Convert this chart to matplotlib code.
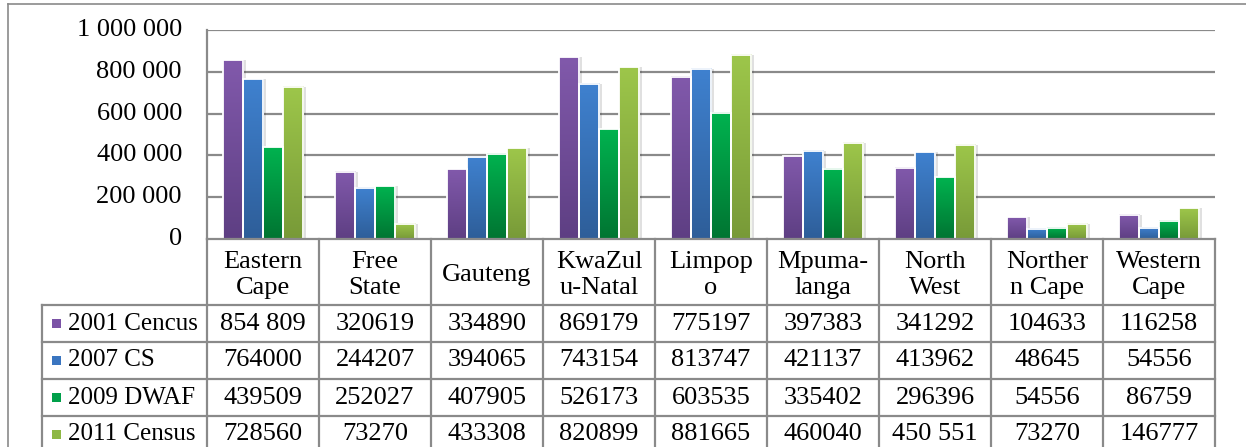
import matplotlib.pyplot as plt
from matplotlib.colors import LinearSegmentedColormap
import numpy as np

plt.rcParams['font.family'] = ['Liberation Serif', 'DejaVu Serif']

provinces = ["Eastern\nCape", "Free\nState", "Gauteng", "KwaZul\nu-Natal", "Limpop\no",
             "Mpuma-\nlanga", "North\nWest", "Norther\nn Cape", "Western\nCape"]
series = ["2001 Cencus", "2007 CS", "2009 DWAF", "2011 Census"]

# values as printed in the table (bars are parsed from these strings)
census_2001 = ["854 809", "320619", "334890", "869179", "775197", "397383", "341292", "104633", "116258"]
cs_2007 = ["764000", "244207", "394065", "743154", "813747", "421137", "413962", "48645", "54556"]
dwaf_2009 = ["439509", "252027", "407905", "526173", "603535", "335402", "296396", "54556", "86759"]
census_2011 = ["728560", "73270", "433308", "820899", "881665", "460040", "450 551", "73270", "146777"]
table_rows = [census_2001, cs_2007, dwaf_2009, census_2011]

y_ticks = [0, 200000, 400000, 600000, 800000, 1000000]
y_tick_labels = ["0", "200 000", "400 000", "600 000", "800 000", "1 000 000"]

# (top colour, bottom colour) gradient for each series
bar_colors = [("#8159AB", "#5E3F83"), ("#3F81CF", "#2E5E99"),
              ("#00B24F", "#007532"), ("#9DC64A", "#789A38")]
legend_colors = ["#7B53A6", "#3A75C0", "#00A04A", "#8EB844"]

W, H = 1246, 447
fig = plt.figure(figsize=(W / 100, H / 100), dpi=100)

# pixel layout of the plot area and data table
left, right = 207, 1215
top, zero = 30, 239
leg_left = 42
row_edges = [239, 305, 342, 379, 416, 453]
col_w = (right - left) / len(provinces)
line_c = "#8A8A8A"
fs = 19
fs_leg = 18

ax = fig.add_axes([left / W, 1 - zero / H, (right - left) / W, (zero - top) / H])
ax.set_xlim(-0.5, len(provinces) - 0.5)
ax.set_ylim(0, 1000000)
for t in y_ticks[1:]:
    ax.axhline(t, color=line_c, lw=1.6, zorder=0)
for s in ax.spines.values():
    s.set_visible(False)
ax.set_xticks([])
ax.set_yticks([])
ax.patch.set_alpha(0)

bw = 0.18
x = np.arange(len(provinces))
grad = np.linspace(0, 1, 64).reshape(-1, 1)
for i, row in enumerate(table_rows):
    vals = [int(v.replace(" ", "")) for v in row]
    xs = x + (i - 1.5) * bw
    cmap = LinearSegmentedColormap.from_list("g%d" % i, [bar_colors[i][1], bar_colors[i][0]])
    # soft shadow
    ax.bar(xs + 0.025, vals, width=bw, color="black", alpha=0.12, zorder=1, linewidth=0)
    for xc, v in zip(xs, vals):
        ax.imshow(grad, extent=[xc - bw / 2, xc + bw / 2, 0, v], origin="lower",
                  aspect="auto", cmap=cmap, zorder=2, interpolation="bilinear")
    ax.bar(xs, vals, width=bw, color="none", edgecolor="white", linewidth=1.3, zorder=3)
ax.set_xlim(-0.5, len(provinces) - 0.5)
ax.set_ylim(0, 1000000)

# overlay in pixel coordinates for the axis labels and data table
ov = fig.add_axes([0, 0, 1, 1])
ov.set_xlim(0, W)
ov.set_ylim(H, 0)
ov.axis("off")

# chart frame
ov.plot([8, W + 5], [4, 4], color=line_c, lw=1.2)
ov.plot([8, 8], [4, H + 5], color=line_c, lw=1.2)

# value axis
ov.plot([left, left], [top, zero], color=line_c, lw=1.6)
for t, lab in zip(y_ticks, y_tick_labels):
    yp = zero - (zero - top) * t / 1000000
    ov.text(182, yp, lab, ha="right", va="center", fontsize=fs)

# table grid
ov.plot([left, right], [zero, zero], color=line_c, lw=1.6)
for k in range(len(provinces) + 1):
    xp = left + k * col_w
    ov.plot([xp, xp], [zero, H + 5], color=line_c, lw=1.6)
for ye in row_edges[1:-1]:
    ov.plot([leg_left, right], [ye, ye], color=line_c, lw=1.6)
ov.plot([leg_left, leg_left], [row_edges[1], H + 5], color=line_c, lw=1.6)

for k, name in enumerate(provinces):
    ov.text(left + (k + 0.5) * col_w, (row_edges[0] + row_edges[1]) / 2 + 3, name,
            ha="center", va="center", fontsize=fs, linespacing=1.2)

for r, (label, row) in enumerate(zip(series, table_rows)):
    yc = (row_edges[r + 1] + row_edges[r + 2]) / 2
    ov.add_patch(plt.Rectangle((52, yc - 5), 9, 9, color=legend_colors[r], lw=0))
    ov.text(68, yc, label, ha="left", va="center", fontsize=fs_leg)
    for k, s in enumerate(row):
        ov.text(left + (k + 0.5) * col_w, yc, s, ha="center", va="center", fontsize=fs)

fig.savefig("out.png", dpi=100)
